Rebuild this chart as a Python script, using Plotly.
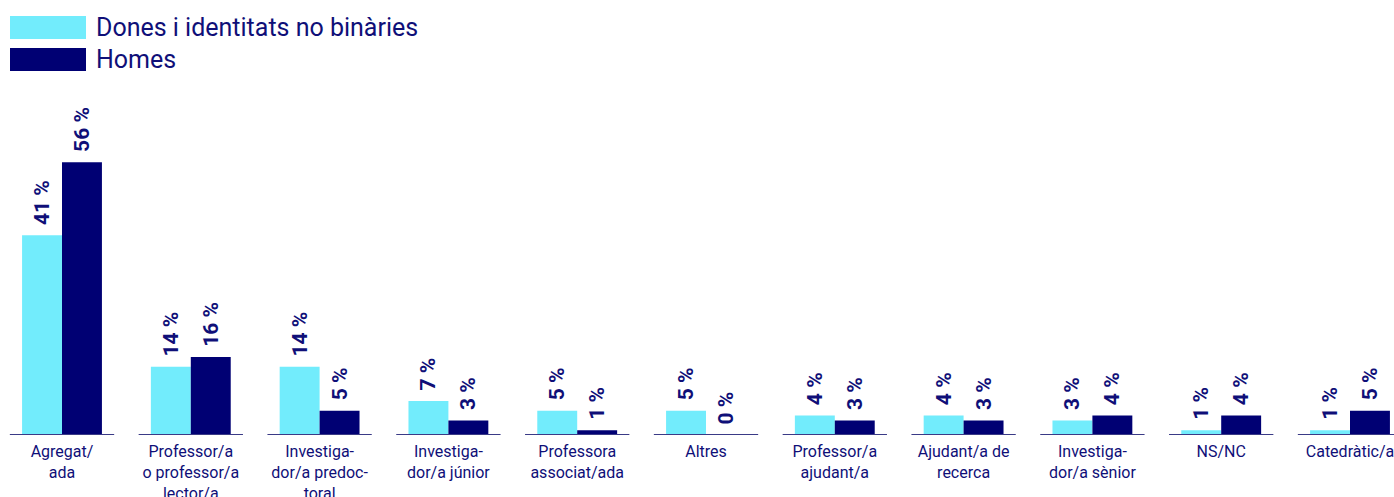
import plotly.graph_objects as go

# Categories and shares (%) by group
categories = [
    "Agregat/<br>ada",
    "Professor/a<br>o professor/a<br>lector/a",
    "Investiga-<br>dor/a predoc-<br>toral",
    "Investiga-<br>dor/a júnior",
    "Professora<br>associat/ada",
    "Altres",
    "Professor/a<br>ajudant/a",
    "Ajudant/a de<br>recerca",
    "Investiga-<br>dor/a sènior",
    "NS/NC",
    "Catedràtic/a",
]
dones = [41, 14, 14, 7, 5, 5, 4, 4, 3, 1, 1]
homes = [56, 16, 5, 3, 1, 0, 3, 3, 4, 4, 5]
series_names = ["Dones i identitats no binàries", "Homes"]

CYAN = "#72ECFC"
NAVY = "#000073"
TEXT = "#0F0F78"
FONT = "Roboto"

W, H = 1394, 497
M_TOP, M_BOT = 100, 62
PLOT_H = H - M_TOP - M_BOT
BAR_W = 0.31
xs = list(range(len(categories)))


def paper_y(py):
    """Convert a pixel row (from the top of the page) to paper y."""
    return (H - M_BOT - py) / PLOT_H


fig = go.Figure()
for vals, color, offset, name in [
    (dones, CYAN, -BAR_W, series_names[0]),
    (homes, NAVY, 0.0, series_names[1]),
]:
    fig.add_trace(go.Bar(
        x=xs, y=vals, name=name, width=BAR_W, offset=offset,
        marker=dict(color=color, line=dict(width=0)),
        texttemplate="\u00a0\u200a<b>%{y} %</b>", textposition="outside", textangle=-90,
        textfont=dict(family=FONT, size=21, color=TEXT, weight=900),
        constraintext="none", cliponaxis=False, showlegend=False,
    ))

# Baseline segment under each category group
shapes = []
for i in xs:
    shapes.append(dict(type="line", xref="x", yref="y", x0=i - 0.405, x1=i + 0.405,
                       y0=0, y1=0, line=dict(color="#3A3A86", width=2)))

# Legend: swatch + label per series
annotations = []
for k, (name, color) in enumerate(zip(series_names, [CYAN, NAVY])):
    top = 16 + k * 32
    shapes.append(dict(type="rect", xref="paper", yref="paper",
                       x0=10 / W, x1=86 / W, y0=paper_y(top + 23), y1=paper_y(top),
                       fillcolor=color, line=dict(width=0)))
    annotations.append(dict(xref="paper", yref="paper", x=94 / W, y=paper_y(top + 11.5),
                            text=name, showarrow=False, xanchor="left", yanchor="middle",
                            font=dict(family=FONT, size=25, color=TEXT)))

x_min = -62 / 128.8
x_max = x_min + W / 128.8

fig.update_layout(
    width=W, height=H,
    margin=dict(l=0, r=0, t=M_TOP, b=M_BOT, pad=0),
    paper_bgcolor="white", plot_bgcolor="white",
    barmode="overlay",
    shapes=shapes, annotations=annotations,
    xaxis=dict(range=[x_min, x_max], tickmode="array", tickvals=xs, ticktext=categories,
               showgrid=False, zeroline=False, showline=False, ticks="",
               ticklabelstandoff=5, ticklabeloverflow="allow",
               tickfont=dict(family=FONT, size=16, color=TEXT), automargin=False),
    yaxis=dict(range=[0, 335 / 4.87], visible=False, showgrid=False, zeroline=False),
)

fig.write_html("out.html")
